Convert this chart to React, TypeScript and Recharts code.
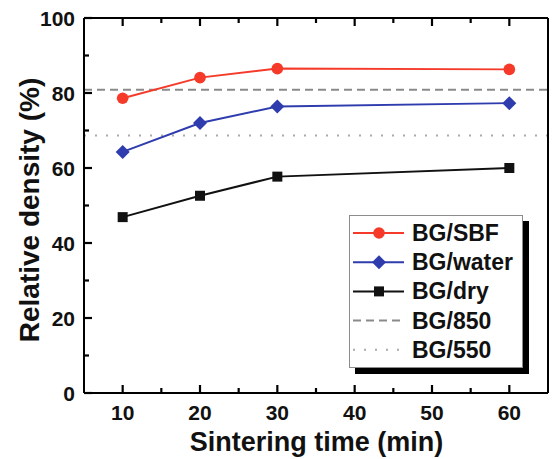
import React from 'react';
import { LineChart, Line, XAxis, YAxis, ReferenceLine } from 'recharts';

const times = [10, 20, 30, 60];
const sbf = [78.6, 84.1, 86.5, 86.3];
const water = [64.3, 72.0, 76.4, 77.3];
const dry = [46.9, 52.6, 57.7, 60.0];
const bg850 = 80.9;
const bg550 = 68.7;

const xTicks = [10, 15, 20, 25, 30, 35, 40, 45, 50, 55, 60];
const yTicks = [0, 10, 20, 30, 40, 50, 60, 70, 80, 90, 100];
const xTitle = 'Sintering time (min)';
const yTitle = 'Relative density (%)';

const X_DOMAIN: [number, number] = [5, 65];
const Y_DOMAIN: [number, number] = [0, 100];

const data = times.map((t, i) => ({ t, sbf: sbf[i], water: water[i], dry: dry[i] }));

const FONT = '"Liberation Sans", Arial, sans-serif';
const RED = '#f53a2a';
const BLUE = '#2e3cae';
const BLACK = '#111';

const MAJOR = 8;
const MINOR = 5;

const CircleDot = (p: any) => <circle cx={p.cx} cy={p.cy} r={5.8} fill={RED} />;
const DiamondDot = (p: any) => (
  <path d={`M${p.cx},${p.cy - 7} L${p.cx + 7},${p.cy} L${p.cx},${p.cy + 7} L${p.cx - 7},${p.cy} Z`} fill={BLUE} />
);
const SquareDot = (p: any) => <rect x={p.cx - 5} y={p.cy - 5} width={10} height={10} fill={BLACK} />;

const BottomTick = (p: any) => {
  const v = p.payload.value;
  const major = v % 10 === 0;
  return (
    <g>
      <line x1={p.x} x2={p.x} y1={p.y} y2={p.y - (major ? MAJOR : MINOR)} stroke="#000" strokeWidth={2.2} />
      {major && (
        <text x={p.x} y={p.y + 27} textAnchor="middle" fontFamily={FONT} fontWeight="bold" fontSize={21} fill="#111">
          {v}
        </text>
      )}
    </g>
  );
};
const TopTick = (p: any) => {
  const v = p.payload.value;
  const major = v % 10 === 0;
  return (
    <g>
      <line x1={p.x} x2={p.x} y1={p.y} y2={p.y + (major ? MAJOR : MINOR)} stroke="#000" strokeWidth={2.2} />
    </g>
  );
};
const LeftTick = (p: any) => {
  const v = p.payload.value;
  const major = v % 20 === 0;
  return (
    <g>
      <line x1={p.x} x2={p.x + (major ? MAJOR : MINOR)} y1={p.y} y2={p.y} stroke="#000" strokeWidth={2.2} />
      {major && (
        <text x={p.x - 9} y={p.y + 7.5} textAnchor="end" fontFamily={FONT} fontWeight="bold" fontSize={21} fill="#111">
          {v}
        </text>
      )}
    </g>
  );
};
const RightTick = (p: any) => {
  const v = p.payload.value;
  const major = v % 20 === 0;
  return (
    <g>
      <line x1={p.x} x2={p.x - (major ? MAJOR : MINOR)} y1={p.y} y2={p.y} stroke="#000" strokeWidth={2.2} />
    </g>
  );
};

const legendItems = [
  { name: 'BG/SBF', color: RED, dash: undefined as string | undefined, marker: 'circle' },
  { name: 'BG/water', color: BLUE, dash: undefined, marker: 'diamond' },
  { name: 'BG/dry', color: BLACK, dash: undefined, marker: 'square' },
  { name: 'BG/850', color: '#8a8a8a', dash: '8 5', marker: 'none' },
  { name: 'BG/550', color: '#aaaaaa', dash: '2 9', marker: 'none' },
];

const LegendBox = () => (
  <div style={{ position: 'absolute', left: 349, top: 215, width: 174, height: 153 }}>
    <div style={{ position: 'absolute', left: 6, top: 6, width: 174, height: 153, background: '#000' }} />
    <div
      style={{
        position: 'absolute',
        left: 0,
        top: 0,
        width: 172,
        height: 151,
        background: '#fff',
        border: '1px solid #8c8c8c',
      }}
    />
    <svg style={{ position: 'absolute', left: 0, top: 0 }} width={174} height={153}>
      {legendItems.map((it, i) => {
        const cy = 18 + i * 29.2;
        return (
          <g key={it.name}>
            <line x1={4} x2={55} y1={cy} y2={cy} stroke={it.color} strokeWidth={2} strokeDasharray={it.dash} />
            {it.marker === 'circle' && <CircleDot cx={30} cy={cy} />}
            {it.marker === 'diamond' && <DiamondDot cx={30} cy={cy} />}
            {it.marker === 'square' && <SquareDot cx={30} cy={cy} />}
            <text x={63} y={cy + 8} fontFamily={FONT} fontWeight="bold" fontSize={23} fill="#111">
              {it.name}
            </text>
          </g>
        );
      })}
    </svg>
  </div>
);

export default function App() {
  return (
    <div style={{ position: 'absolute', left: 0, top: 0 }}>
      <LineChart width={552} height={459} data={data} margin={{ top: 17, right: 3, bottom: 0, left: 0 }}>
        <XAxis
          xAxisId="b"
          dataKey="t"
          type="number"
          domain={X_DOMAIN}
          ticks={xTicks}
          interval={0}
          height={66}
          tickSize={0}
          tickMargin={0}
          tick={<BottomTick />}
          axisLine={{ stroke: '#000', strokeWidth: 2 }}
          tickLine={false}
        />
        <XAxis
          xAxisId="t"
          orientation="top"
          dataKey="t"
          type="number"
          domain={X_DOMAIN}
          ticks={xTicks}
          interval={0}
          height={1}
          tickSize={0}
          tickMargin={0}
          tick={<TopTick />}
          axisLine={{ stroke: '#000', strokeWidth: 2 }}
          tickLine={false}
        />
        <YAxis
          yAxisId="l"
          type="number"
          domain={Y_DOMAIN}
          ticks={yTicks}
          interval={0}
          width={84}
          tickSize={0}
          tickMargin={0}
          tick={<LeftTick />}
          axisLine={{ stroke: '#000', strokeWidth: 2 }}
          tickLine={false}
        />
        <YAxis
          yAxisId="r"
          orientation="right"
          type="number"
          domain={Y_DOMAIN}
          ticks={yTicks}
          interval={0}
          width={1}
          tickSize={0}
          tickMargin={0}
          tick={<RightTick />}
          axisLine={{ stroke: '#000', strokeWidth: 2 }}
          tickLine={false}
        />
        <ReferenceLine xAxisId="b" yAxisId="l" y={Y_DOMAIN[1]} stroke="#000" strokeWidth={2} />
        <ReferenceLine xAxisId="b" yAxisId="l" x={X_DOMAIN[1]} stroke="#000" strokeWidth={2} />
        <ReferenceLine xAxisId="b" yAxisId="l" y={bg850} stroke="#8a8a8a" strokeWidth={2} strokeDasharray="8 5" />
        <ReferenceLine xAxisId="b" yAxisId="l" y={bg550} stroke="#aaaaaa" strokeWidth={2} strokeDasharray="2 9" />
        <Line xAxisId="b" yAxisId="l" dataKey="sbf" stroke={RED} strokeWidth={2} dot={<CircleDot />} isAnimationActive={false} />
        <Line xAxisId="b" yAxisId="l" dataKey="water" stroke={BLUE} strokeWidth={2} dot={<DiamondDot />} isAnimationActive={false} />
        <Line xAxisId="b" yAxisId="l" dataKey="dry" stroke={BLACK} strokeWidth={2} dot={<SquareDot />} isAnimationActive={false} />
      </LineChart>
      <div
        style={{
          position: 'absolute',
          left: 84,
          width: 465,
          top: 425,
          textAlign: 'center',
          fontFamily: FONT,
          fontWeight: 'bold',
          fontSize: 27,
          lineHeight: '34px',
          color: '#111',
          whiteSpace: 'nowrap',
        }}
      >
        {xTitle}
      </div>
      <div
        style={{
          position: 'absolute',
          left: 30,
          top: 210,
          transform: 'translate(-50%, -50%) rotate(-90deg)',
          fontFamily: FONT,
          fontWeight: 'bold',
          fontSize: 28,
          lineHeight: '32px',
          color: '#111',
          whiteSpace: 'nowrap',
        }}
      >
        {yTitle}
      </div>
      <LegendBox />
    </div>
  );
}
